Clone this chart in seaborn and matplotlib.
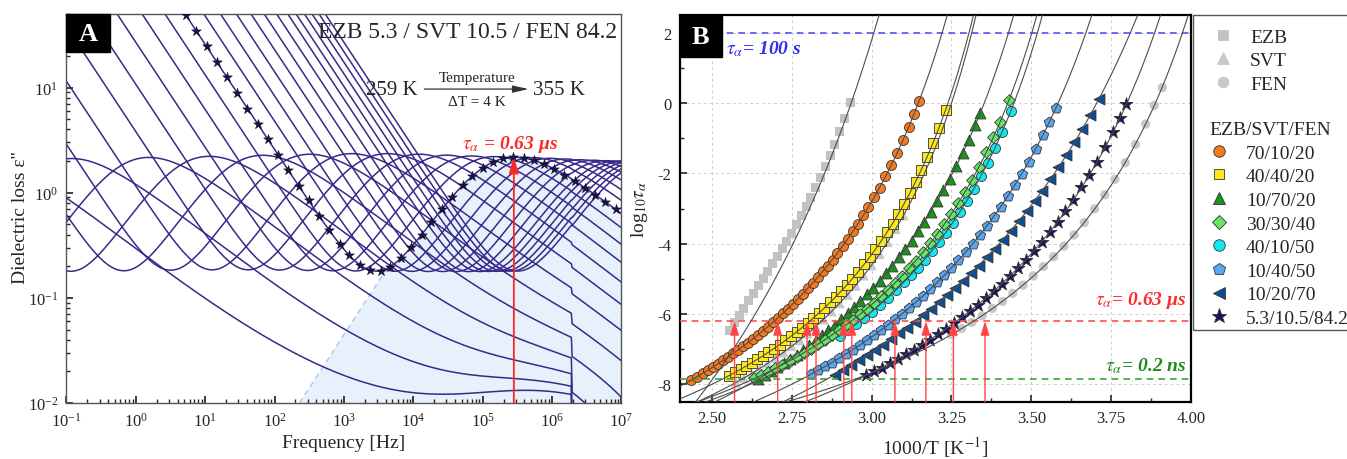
import numpy as np
import pandas as pd
import matplotlib
matplotlib.use('Agg')
import matplotlib.pyplot as plt
import seaborn as sns
from matplotlib.lines import Line2D
from matplotlib.patches import Rectangle
from matplotlib.ticker import (FixedLocator, LogLocator, NullFormatter, MultipleLocator,
                               FormatStrFormatter)

sns.set_theme(style='ticks')
plt.rcParams['font.family'] = ['Liberation Serif', 'DejaVu Serif']
plt.rcParams['mathtext.fontset'] = 'stix'
plt.rcParams['axes.unicode_minus'] = False

# ---------------- panel A : loss spectra of EZB 5.3 / SVT 10.5 / FEN 84.2
temps_K = [259, 263, 267, 271, 275, 279, 283, 287, 291, 295, 299, 303, 307,
           311, 315, 319, 323, 327, 331, 335, 339, 343, 347, 351, 355]
log_fpeak = [-2.20, -0.93, 0.18, 1.05, 1.82, 2.50, 3.10, 3.62, 4.07, 4.47, 4.83, 5.16, 5.45,
             5.72, 5.96, 6.19, 6.40, 6.59, 6.77, 6.93, 7.05, 7.17, 7.28, 7.38, 7.47]
eps_peak = [2.00, 2.05, 2.10, 2.15, 2.20, 2.25, 2.28, 2.28, 2.25, 2.20, 2.16, 2.13, 2.10,
            2.08, 2.05, 2.02, 2.00, 1.98, 1.96, 1.95, 1.95, 1.95, 1.95, 1.95, 1.95]
# dc conductivity term, eps'' = 10**log_sigma / f
log_sigma = [-5.24, -3.97, -2.86, -1.99, -1.22, -0.54, 0.06, 0.58, 1.03, 1.43, 1.79, 2.12, 2.41,
             2.68, 2.92, 3.15, 3.36, 3.55, 3.73, 3.89, 4.01, 4.13, 4.24, 4.34, 4.43]

# shape of the alpha peak
LOW_SLOPE, HIGH_SLOPE, FLAT = 1.0, 0.56, 0.30
WING_AMP, WING_SLOPE = 0.06, 0.20
BETA_AMP, BETA_LOGF, BETA_WIDTH = 0.010, 5.9, 0.35
BRIDGE_LOGF, BRIDGE_OFFSET = 6.28, 0.014   # bridge change at 2 MHz

star_T = 307
star_logf = [0.72, 0.87, 1.02, 1.17, 1.31, 1.46, 1.61, 1.76, 1.90, 2.05, 2.20, 2.35, 2.49,
             2.64, 2.79, 2.94, 3.08, 3.23, 3.38, 3.53, 3.67, 3.82, 3.97, 4.12, 4.26, 4.41,
             4.56, 4.71, 4.85, 5.00, 5.15, 5.30, 5.44, 5.59, 5.74, 5.89, 6.03, 6.18, 6.33,
             6.48, 6.62, 6.77, 6.92]
arrow_logf = 5.45
guide_logf = [2.36, 3.62]   # dashed edge of the shaded area
freq_ticks = [1e-1, 1e0, 1e1, 1e2, 1e3, 1e4, 1e5, 1e6, 1e7]
loss_ticks = [1e-2, 1e-1, 1e0, 1e1]

# ---------------- panel B : log10 tau_alpha vs 1000/T
ezb_x = [2.555, 2.570, 2.585, 2.600, 2.615, 2.630, 2.645, 2.660, 2.675, 2.690, 2.705, 2.720, 2.735,
         2.750, 2.765, 2.780, 2.795, 2.810, 2.825, 2.840, 2.855, 2.870, 2.885, 2.900, 2.915, 2.933]
ezb_y = [-6.46, -6.25, -6.04, -5.83, -5.62, -5.41, -5.20, -4.99, -4.78, -4.57, -4.36, -4.15, -3.93,
         -3.70, -3.46, -3.21, -2.95, -2.68, -2.40, -2.11, -1.81, -1.50, -1.17, -0.82, -0.45, 0.00]
svt_x = [2.575, 2.600, 2.625, 2.650, 2.675, 2.700, 2.725, 2.750, 2.775, 2.800, 2.825,
         2.850, 2.875, 2.900, 2.925, 2.950, 2.975, 3.000, 3.025, 3.050, 3.075, 3.100]
svt_y = [-7.94, -7.82, -7.69, -7.55, -7.40, -7.25, -7.09, -6.91, -6.74, -6.55, -6.35,
         -6.15, -5.92, -5.69, -5.45, -5.19, -4.90, -4.61, -4.29, -3.95, -3.58, -3.19]
fen_x = [3.250, 3.282, 3.314, 3.346, 3.378, 3.410, 3.442, 3.474, 3.506, 3.538, 3.570,
         3.602, 3.634, 3.666, 3.698, 3.730, 3.762, 3.794, 3.826, 3.858, 3.885, 3.910]
fen_y = [-6.58, -6.41, -6.24, -6.05, -5.84, -5.64, -5.41, -5.18, -4.92, -4.65, -4.37,
         -4.07, -3.75, -3.40, -3.01, -2.61, -2.17, -1.70, -1.18, -0.60, -0.07, 0.44]
orange_x = [2.435, 2.452, 2.472, 2.487, 2.503, 2.518, 2.534, 2.550, 2.566, 2.581, 2.597, 2.612,
            2.628, 2.643, 2.659, 2.675, 2.691, 2.706, 2.722, 2.737, 2.753, 2.768, 2.784, 2.800,
            2.816, 2.831, 2.847, 2.862, 2.878, 2.893, 2.909, 2.925, 2.941, 2.957, 2.974, 2.990,
            3.008, 3.025, 3.043, 3.062, 3.080, 3.098, 3.116, 3.133, 3.149]
orange_y = [-7.88, -7.79, -7.68, -7.60, -7.50, -7.42, -7.32, -7.23, -7.12, -7.02, -6.92, -6.82,
            -6.71, -6.60, -6.48, -6.36, -6.23, -6.11, -5.98, -5.86, -5.71, -5.58, -5.43, -5.27,
            -5.11, -4.96, -4.79, -4.62, -4.45, -4.27, -4.07, -3.87, -3.65, -3.44, -3.19, -2.95,
            -2.67, -2.41, -2.09, -1.76, -1.42, -1.06, -0.68, -0.31, 0.05]
yellow_x = [2.555, 2.572, 2.590, 2.607, 2.625, 2.642, 2.660, 2.677, 2.695, 2.712, 2.730, 2.747,
            2.765, 2.782, 2.800, 2.817, 2.835, 2.852, 2.870, 2.887, 2.905, 2.922, 2.940, 2.958,
            2.976, 2.994, 3.012, 3.030, 3.048, 3.066, 3.084, 3.102, 3.120, 3.138, 3.156, 3.174,
            3.192, 3.210, 3.232]
yellow_y = [-7.75, -7.66, -7.57, -7.48, -7.39, -7.29, -7.18, -7.09, -6.98, -6.87, -6.75, -6.63,
            -6.51, -6.39, -6.25, -6.12, -5.97, -5.83, -5.67, -5.52, -5.34, -5.17, -4.99, -4.80,
            -4.59, -4.38, -4.16, -3.92, -3.68, -3.43, -3.15, -2.86, -2.55, -2.24, -1.90, -1.54,
            -1.14, -0.72, -0.19]
green_x = [2.645, 2.665, 2.685, 2.705, 2.725, 2.745, 2.765, 2.785, 2.805, 2.825, 2.845, 2.865,
           2.885, 2.905, 2.925, 2.945, 2.965, 2.985, 3.005, 3.025, 3.045, 3.065, 3.085, 3.105,
           3.125, 3.145, 3.165, 3.185, 3.205, 3.225, 3.245, 3.265, 3.285, 3.305, 3.325, 3.340]
green_y = [-7.85, -7.74, -7.63, -7.51, -7.40, -7.27, -7.15, -7.02, -6.88, -6.75, -6.60, -6.45,
           -6.30, -6.14, -5.98, -5.81, -5.63, -5.44, -5.25, -5.05, -4.84, -4.63, -4.39, -4.16,
           -3.91, -3.65, -3.38, -3.09, -2.79, -2.48, -2.15, -1.80, -1.42, -1.04, -0.63, -0.29]
lgreen_x = [2.633, 2.655, 2.677, 2.699, 2.721, 2.743, 2.765, 2.787, 2.809, 2.831, 2.853, 2.875,
            2.897, 2.919, 2.941, 2.963, 2.985, 3.007, 3.029, 3.051, 3.073, 3.095, 3.117, 3.139,
            3.161, 3.183, 3.205, 3.227, 3.249, 3.271, 3.293, 3.315, 3.337, 3.359, 3.381, 3.403,
            3.430]
lgreen_y = [-7.83, -7.74, -7.64, -7.54, -7.44, -7.33, -7.22, -7.11, -6.99, -6.86, -6.73, -6.60,
            -6.46, -6.32, -6.16, -6.01, -5.85, -5.68, -5.50, -5.32, -5.12, -4.91, -4.70, -4.48,
            -4.24, -3.99, -3.73, -3.45, -3.16, -2.85, -2.53, -2.18, -1.81, -1.40, -0.98, -0.53,
            0.09]
cyan_x = [2.900, 2.925, 2.950, 2.975, 3.000, 3.025, 3.050, 3.075, 3.100, 3.122, 3.144, 3.166,
          3.188, 3.210, 3.232, 3.254, 3.276, 3.298, 3.320, 3.342, 3.364, 3.386, 3.408, 3.436]
cyan_y = [-6.61, -6.45, -6.29, -6.11, -5.93, -5.74, -5.54, -5.33, -5.10, -4.89, -4.68, -4.45,
          -4.21, -3.95, -3.69, -3.40, -3.11, -2.78, -2.44, -2.08, -1.70, -1.27, -0.83, -0.22]
blue_x = [2.810, 2.832, 2.854, 2.876, 2.898, 2.920, 2.942, 2.964, 2.986, 3.008, 3.030, 3.052,
          3.074, 3.096, 3.118, 3.140, 3.162, 3.184, 3.206, 3.228, 3.250, 3.272, 3.294, 3.316,
          3.338, 3.360, 3.382, 3.404, 3.426, 3.448, 3.470, 3.492, 3.514, 3.536, 3.556, 3.578]
blue_y = [-7.71, -7.60, -7.49, -7.38, -7.26, -7.13, -7.01, -6.88, -6.74, -6.60, -6.45, -6.31,
          -6.15, -5.99, -5.82, -5.66, -5.48, -5.29, -5.09, -4.90, -4.69, -4.47, -4.25, -4.01,
          -3.76, -3.50, -3.23, -2.95, -2.65, -2.34, -2.01, -1.67, -1.31, -0.92, -0.55, -0.13]
navy_x = [2.885, 2.910, 2.935, 2.960, 2.985, 3.010, 3.035, 3.060, 3.085, 3.110, 3.135, 3.160,
          3.185, 3.210, 3.235, 3.260, 3.285, 3.310, 3.335, 3.360, 3.385, 3.410, 3.435, 3.460,
          3.485, 3.510, 3.535, 3.560, 3.585, 3.610, 3.635, 3.660, 3.685, 3.712]
navy_y = [-7.72, -7.59, -7.45, -7.31, -7.17, -7.02, -6.87, -6.72, -6.55, -6.39, -6.22, -6.04,
          -5.86, -5.67, -5.47, -5.27, -5.06, -4.84, -4.63, -4.39, -4.14, -3.90, -3.63, -3.36,
          -3.08, -2.79, -2.49, -2.16, -1.82, -1.48, -1.12, -0.73, -0.34, 0.12]
star_x = [2.982, 3.007, 3.032, 3.057, 3.082, 3.107, 3.132, 3.157, 3.182, 3.207, 3.232, 3.257,
          3.282, 3.307, 3.332, 3.357, 3.382, 3.407, 3.432, 3.457, 3.482, 3.507, 3.532, 3.557,
          3.582, 3.607, 3.632, 3.657, 3.682, 3.707, 3.732, 3.757, 3.778, 3.798]
star_y = [-7.74, -7.63, -7.52, -7.40, -7.27, -7.14, -7.01, -6.87, -6.73, -6.58, -6.42, -6.26,
          -6.09, -5.92, -5.74, -5.55, -5.35, -5.14, -4.93, -4.70, -4.46, -4.21, -3.95, -3.67,
          -3.39, -3.07, -2.75, -2.40, -2.05, -1.67, -1.26, -0.82, -0.43, -0.03]

# VFT fits, log10 tau = A + B / (T - T0)
vft_name = ['EZB', 'SVT', 'FEN', '70/10/20', '40/40/20', '10/70/20', '30/30/40',
            '40/10/50', '10/40/50', '10/20/70', '5.3/10.5/84.2']
vft_A = [-19.23, -12.00, -11.36, -12.36, -11.70, -12.59, -11.65, -11.60, -12.53, -13.55, -12.23]
vft_B = [1646, 494, 416.5, 653, 494, 607.7, 499.1, 478.1, 601.5, 784.5, 511.1]
vft_T0 = [255, 266.5, 220.5, 265, 266.5, 250, 249, 249, 231, 212, 221.4]

# 1000/T where each series reaches tau = 0.63 us
cross_x = [2.571, 2.706, 2.798, 2.826, 2.913, 2.938, 3.073, 3.170, 3.256, 3.355]
tau_100s, tau_063us, tau_02ns = 2.0, -6.2, -7.85
invT_ticks = [2.50, 2.75, 3.00, 3.25, 3.50, 3.75, 4.00]
logtau_ticks = [-8, -6, -4, -2, 0, 2]

pure_series = [('EZB', ezb_x, ezb_y, 's', '#c2c2c2', 42),
               ('SVT', svt_x, svt_y, '^', '#c8c8c8', 55),
               ('FEN', fen_x, fen_y, 'o', '#c8c8c8', 45)]
mix_series = [('70/10/20', orange_x, orange_y, 'o', '#f4791f', 52),
              ('40/40/20', yellow_x, yellow_y, 's', '#ffe81a', 42),
              ('10/70/20', green_x, green_y, '^', '#179617', 62),
              ('30/30/40', lgreen_x, lgreen_y, 'D', '#62e862', 36),
              ('40/10/50', cyan_x, cyan_y, 'o', '#12e8f2', 52),
              ('10/40/50', blue_x, blue_y, 'p', '#58a6f4', 62),
              ('10/20/70', navy_x, navy_y, '<', '#0d4d95', 62),
              ('5.3/10.5/84.2', star_x, star_y, '*', '#1a1260', 95)]
# drawing order: the cyan circles sit behind the light green diamonds
draw_order = ['70/10/20', '40/40/20', '10/70/20', '40/10/50', '30/30/40',
              '10/40/50', '10/20/70', '5.3/10.5/84.2']

LINE_A = '#38298a'


def spectrum(f, fp, ep, ls):
    x = f / fp
    alpha = ep / ((1 - FLAT) / (LOW_SLOPE + HIGH_SLOPE)
                  * (HIGH_SLOPE * x ** -LOW_SLOPE + LOW_SLOPE * x ** HIGH_SLOPE) + FLAT)
    wing = ep * WING_AMP * x ** -WING_SLOPE * x / (1 + x)
    fb = f / 10 ** BETA_LOGF
    beta = 2 * BETA_AMP / (fb ** -BETA_WIDTH + fb ** BETA_WIDTH)
    eps = alpha + wing + beta + 10 ** ls / f
    eps = np.where(f > 10 ** BRIDGE_LOGF, eps - BRIDGE_OFFSET, eps)
    return np.clip(eps, 1e-3, None)


fig = plt.figure(figsize=(13.47, 4.60), dpi=100)
axA = fig.add_axes([0.0493, 0.1217, 0.4120, 0.8457])
axB = fig.add_axes([0.5048, 0.1239, 0.3794, 0.8413])

# ======================= panel A
axA.set(xscale='log', yscale='log')
freq = np.logspace(-1, 7, 700)
spectra = pd.concat([pd.DataFrame({'T': T, 'f': freq, 'eps': spectrum(freq, 10 ** lp, ep, ls)})
                     for T, lp, ep, ls in zip(temps_K, log_fpeak, eps_peak, log_sigma)])

i_star = temps_K.index(star_T)
star_pars = (10 ** log_fpeak[i_star], eps_peak[i_star], log_sigma[i_star])
star_curve = spectrum(freq, *star_pars)

# shaded region below the 307 K spectrum
gf = 10 ** np.array(guide_logf)
g_top = spectrum(gf[1], *star_pars)
keep = freq >= gf[1]
axA.fill(np.r_[gf[0], freq[keep], freq[-1]], np.r_[1e-2, star_curve[keep], 1e-2],
         color='#e6f1fc', lw=0, zorder=0)
axA.plot(gf, [1e-2, g_top], ls=(0, (4, 3)), color='#a8c6e8', lw=1.0, zorder=1)

sns.lineplot(data=spectra, x='f', y='eps', units='T', estimator=None, sort=False,
             color=LINE_A, lw=1.1, ax=axA, legend=False, zorder=2)

sf = 10 ** np.array(star_logf)
sns.scatterplot(x=sf, y=spectrum(sf, *star_pars), marker='*', s=55, color='#1a1250',
                edgecolor='black', linewidth=0.3, ax=axA, zorder=4)

fa = 10 ** arrow_logf
axA.annotate('', xy=(fa, spectrum(fa, *star_pars)), xytext=(fa, 1e-2),
             arrowprops=dict(arrowstyle='-|>,head_width=0.25,head_length=0.8', color='#ff2626',
                             lw=1.3, shrinkA=0, shrinkB=0), zorder=5)

axA.set_xlim(1e-1, 1e7)
axA.set_ylim(1e-2, 50)
axA.xaxis.set_major_locator(FixedLocator(freq_ticks))
axA.xaxis.set_minor_locator(LogLocator(base=10, subs=np.arange(2, 10), numticks=100))
axA.xaxis.set_minor_formatter(NullFormatter())
axA.yaxis.set_major_locator(FixedLocator(loss_ticks))
axA.yaxis.set_minor_locator(LogLocator(base=10, subs=np.arange(2, 10), numticks=100))
axA.yaxis.set_minor_formatter(NullFormatter())
axA.tick_params(which='both', direction='in', top=False, right=False, labelsize=12, pad=6)
axA.tick_params(which='major', length=5)
axA.tick_params(which='minor', length=3)
for sp in axA.spines.values():
    sp.set_color('#555555')
    sp.set_linewidth(1.0)
axA.set_xlabel('Frequency [Hz]', fontsize=14)
axA.set_ylabel("Dielectric loss ε''", fontsize=14)
axA.xaxis.set_label_coords(0.5, -0.08)
axA.yaxis.set_label_coords(-0.068, 0.48)

axA.text(0.993, 0.954, 'EZB 5.3 / SVT 10.5 / FEN 84.2', transform=axA.transAxes,
         ha='right', va='center', fontsize=17)
axA.text(0.633, 0.807, '259 K', transform=axA.transAxes, ha='right', va='center', fontsize=15)
axA.text(0.841, 0.807, '355 K', transform=axA.transAxes, ha='left', va='center', fontsize=15)
axA.annotate('', xy=(0.838, 0.807), xytext=(0.640, 0.807), xycoords='axes fraction',
             arrowprops=dict(arrowstyle='-|>,head_width=0.18,head_length=0.8',
                             color='#333333', lw=0.9))
axA.text(0.740, 0.838, 'Temperature', transform=axA.transAxes, ha='center', va='center', fontsize=11)
axA.text(0.740, 0.776, 'ΔT = 4 K', transform=axA.transAxes, ha='center', va='center', fontsize=11)
axA.text(0.80, 0.666, r'$\tau_\alpha$ = 0.63 μs', transform=axA.transAxes, ha='center',
         va='center', fontsize=14, color='#ff2626', fontweight='bold', fontstyle='italic')

axA.add_patch(Rectangle((0, 0.902), 0.079, 0.098, transform=axA.transAxes,
                        color='black', zorder=10, clip_on=False))
axA.text(0.0395, 0.951, 'A', transform=axA.transAxes, ha='center', va='center',
         color='white', fontsize=19, fontweight='bold', zorder=11)

# ======================= panel B
axB.set_axisbelow(True)
axB.grid(True, which='major', ls=(0, (3, 3)), color='#cfcfcf', lw=0.7)

for name, xs, ys, mk, fc, s in pure_series:
    sns.scatterplot(x=xs, y=ys, marker=mk, s=s, color=fc, edgecolor='none', ax=axB, zorder=3)
mix_lookup = {m[0]: m for m in mix_series}
for key in draw_order:
    name, xs, ys, mk, fc, s = mix_lookup[key]
    sns.scatterplot(x=xs, y=ys, marker=mk, s=s, color=fc, edgecolor='#333333',
                    linewidth=0.6, ax=axB, zorder=3)

xg = np.linspace(2.40, 4.00, 500)
Tg = 1000 / xg
for name, A, B, T0 in zip(vft_name, vft_A, vft_B, vft_T0):
    ok = Tg - T0 > 1
    yv = A + B / (Tg[ok] - T0)
    keep = yv < 3.5
    sns.lineplot(x=xg[ok][keep], y=yv[keep], color='#4d4d4d', lw=0.8, ax=axB,
                 estimator=None, sort=False, zorder=5)

axB.axhline(tau_100s, color='#5050ff', ls=(0, (4, 3)), lw=1.2, zorder=4)
axB.axhline(tau_063us, color='#ff4d4d', ls=(0, (4, 3)), lw=1.2, zorder=4)
axB.axhline(tau_02ns, color='#36a836', ls=(0, (4, 3)), lw=1.2, zorder=4)

for cx in cross_x:
    axB.annotate('', xy=(cx, tau_063us), xytext=(cx, -8.5),
                 arrowprops=dict(arrowstyle='-|>,head_width=0.22,head_length=0.7',
                                 color='#ff4545', lw=1.0, shrinkA=0, shrinkB=0), zorder=6)

axB.text(2.545, 1.55, r'$\tau_\alpha$= 100 s', color='#2e2ef0', fontsize=14,
         fontweight='bold', fontstyle='italic', va='center')
axB.text(3.985, -5.6, r'$\tau_\alpha$= 0.63 μs', color='#ff2b2b', fontsize=14,
         fontweight='bold', fontstyle='italic', va='center', ha='right')
axB.text(3.985, -7.45, r'$\tau_\alpha$= 0.2 ns', color='#1f8a1f', fontsize=14,
         fontweight='bold', fontstyle='italic', va='center', ha='right')

axB.set_xlim(2.40, 4.00)
axB.set_ylim(-8.5, 2.5)
axB.xaxis.set_major_locator(FixedLocator(invT_ticks))
axB.xaxis.set_minor_locator(MultipleLocator(0.125))
axB.xaxis.set_major_formatter(FormatStrFormatter('%.2f'))
axB.yaxis.set_major_locator(FixedLocator(logtau_ticks))
axB.yaxis.set_minor_locator(MultipleLocator(1))
axB.tick_params(which='both', direction='in', top=False, right=False, labelsize=12, pad=6)
axB.tick_params(which='major', length=5, width=1.2)
axB.tick_params(which='minor', length=3, width=1.0)
for sp in axB.spines.values():
    sp.set_color('black')
    sp.set_linewidth(1.6)
axB.set_xlabel('1000/T [K$^{-1}$]', fontsize=14)
axB.set_ylabel(r'log$_{10}\tau_{\alpha}$', fontsize=14)
axB.xaxis.set_label_coords(0.5, -0.083)
axB.yaxis.set_label_coords(-0.058, 0.5)

axB.add_patch(Rectangle((0, 0.891), 0.082, 0.109, transform=axB.transAxes,
                        color='black', zorder=10, clip_on=False))
axB.text(0.041, 0.945, 'B', transform=axB.transAxes, ha='center', va='center',
         color='white', fontsize=19, fontweight='bold', zorder=11)

# ======================= legend (box runs past the right edge, as in the original)
fig.add_artist(Rectangle((0.8857, 0.2804), 0.2, 0.6846, transform=fig.transFigure,
                         fill=False, edgecolor='#555555', lw=1.0))


def handle(mk, fc, edge, s):
    return Line2D([], [], ls='', marker=mk, markersize=np.sqrt(s) * 1.15,
                  markerfacecolor=fc, markeredgecolor=edge, markeredgewidth=0.6)


h1 = [handle(mk, fc, fc, s) for _, _, _, mk, fc, s in pure_series]
fig.legend(h1, [p[0] for p in pure_series], loc='upper left',
           bbox_to_anchor=(1213 / 1347, 1 - 29 / 460), frameon=False, fontsize=14,
           handlelength=1.0, handletextpad=0.9, labelspacing=0.31, borderpad=0, borderaxespad=0)
h2 = [handle(mk, fc, '#333333', s) for _, _, _, mk, fc, s in mix_series]
fig.legend(h2, [m[0] for m in mix_series], loc='upper left', title='EZB/SVT/FEN',
           title_fontsize=14, alignment='left',
           bbox_to_anchor=(1209 / 1347, 1 - 122 / 460), frameon=False, fontsize=14,
           handlelength=1.0, handletextpad=0.9, labelspacing=0.31, borderpad=0, borderaxespad=0)

fig.savefig('out.png', dpi=100)
